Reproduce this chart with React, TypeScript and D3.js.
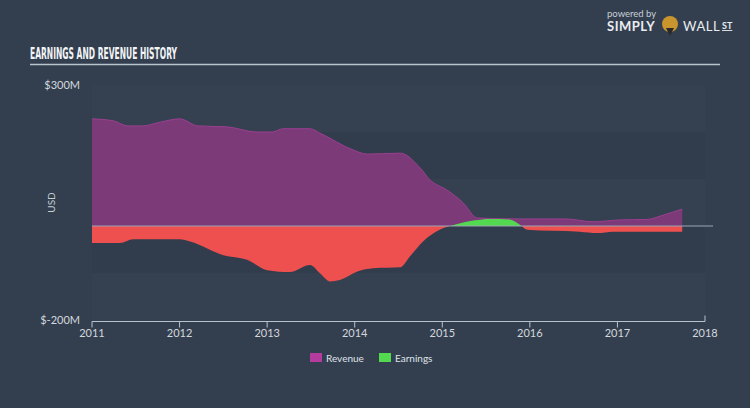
import * as d3 from "d3";
import React from "react";

// values in $M, dates as decimal years
const revenueDates = [2011.0, 2011.24, 2011.41, 2011.58, 2011.78, 2012.0, 2012.21, 2012.54, 2012.88, 2013.06, 2013.18, 2013.49, 2013.6, 2013.98, 2014.14, 2014.52, 2014.75, 2014.86, 2015.05, 2015.24, 2015.4, 2015.89, 2016.42, 2016.72, 2017.03, 2017.34, 2017.52, 2017.74];
const revenueValues = [228, 224, 213, 213, 221, 228, 213, 211, 200, 200, 207, 207, 198, 162, 153, 155, 123, 98, 77, 49, 17, 15, 15, 9, 13, 14, 23, 36];

const earningsDates = [2011.0, 2011.32, 2011.47, 2012.0, 2012.12, 2012.5, 2012.77, 2013.0, 2013.26, 2013.49, 2013.6, 2013.72, 2013.83, 2014.03, 2014.21, 2014.52, 2014.63, 2014.78, 2014.97, 2015.15, 2015.37, 2015.54, 2015.77, 2015.89, 2015.97, 2016.57, 2016.77, 2016.95, 2017.74];
const earningsValues = [-36, -36, -28, -28, -33, -62, -72, -94, -98, -83, -100, -118, -115, -97, -90, -88, -65, -33, -8, 3, 12, 15, 14, 2, -8, -12, -15, -12, -12];

const yearTicks = [2011, 2012, 2013, 2014, 2015, 2016, 2017, 2018];
const yTickLabels = ["$300M", "$-200M"];
const yTickValues = [300, -200];
const bandValues = [300, 200, 100, 0, -100];
const legendItems = ["Revenue", "Earnings"];

const W = 750, H = 408;
const plot = { left: 92, right: 705, top: 85, bottom: 320 };
const font = "Lato, 'Open Sans', sans-serif";

export default function App() {
  const x = d3.scaleLinear().domain([2011, 2018]).range([plot.left, plot.right]);
  const y = d3.scaleLinear().domain([-200, 300]).range([plot.bottom, plot.top]);

  const revenue = revenueDates.map((d, i) => ({ t: d, v: revenueValues[i] }));
  const earnings = earningsDates.map((d, i) => ({ t: d, v: earningsValues[i] }));

  const area = d3.area<{ t: number; v: number }>()
    .x(d => x(d.t))
    .y0(y(0))
    .y1(d => y(d.v))
    .curve(d3.curveMonotoneX);
  const line = d3.line<{ t: number; v: number }>()
    .x(d => x(d.t))
    .y(d => y(d.v))
    .curve(d3.curveMonotoneX);

  const legendColors = ["#b43c9e", "#52d94f"];
  const legendX = [310, 379];

  return (
    <svg width={W} height={H} style={{ position: "absolute", left: 0, top: 0 }}>
      <defs>
        <clipPath id="above">
          <rect x={0} y={0} width={W} height={y(0)} />
        </clipPath>
        <clipPath id="below">
          <rect x={0} y={y(0)} width={W} height={H} />
        </clipPath>
      </defs>
      <rect width={W} height={H} fill="#333f4f" />

      {/* logo */}
      <text x={607} y={17} fill="#c9cfd6" fontSize={9.5} fontFamily={font}>powered by</text>
      <text x={607} y={31} fill="#e9edf1" fontSize={13} fontWeight={700} fontFamily={font} letterSpacing={0.5}>SIMPLY</text>
      <circle cx={670} cy={24} r={8} fill="#c9952f" />
      <path d="M666,28 L670,36 L674,28 Z" fill="#2a2a2a" />
      <text x={683} y={31} fill="#e9edf1" fontSize={13} fontFamily={font} letterSpacing={0.5}>WALL</text>
      <text x={722} y={29} fill="#e9edf1" fontSize={9} fontWeight={700} fontFamily={font} textDecoration="underline">ST</text>

      {/* title */}
      <text x={30} y={59} fill="#f2f4f6" fontSize={15} fontWeight={700}
        fontFamily="'DejaVu Sans Condensed', 'Liberation Sans Narrow', sans-serif"
        textLength={147} lengthAdjust="spacingAndGlyphs">EARNINGS AND REVENUE HISTORY</text>
      <line x1={30} x2={720} y1={64.5} y2={64.5} stroke="#b9c3cd" strokeWidth={1.5} />

      {/* bands */}
      {bandValues.map((v, i) => (
        <rect key={v} x={plot.left} width={plot.right - plot.left} y={y(v)} height={y(v - 100) - y(v)}
          fill={i % 2 === 0 ? "#354151" : "#313d4c"} />
      ))}

      {/* revenue */}
      <path d={area(revenue) ?? ""} fill="#7c3a78" />
      <path d={line(revenue) ?? ""} fill="none" stroke="#9a3f90" strokeWidth={1} />

      {/* earnings */}
      <g clipPath="url(#above)">
        <path d={area(earnings) ?? ""} fill="#52d94f" />
      </g>
      <g clipPath="url(#below)">
        <path d={area(earnings) ?? ""} fill="#ee4f4f" />
      </g>

      {/* zero line */}
      <line x1={plot.left} x2={plot.right + 8} y1={y(0)} y2={y(0)} stroke="#9aa6b2" strokeWidth={1} />

      {/* y labels */}
      {yTickValues.map((v, i) => (
        <text key={v} x={80} y={y(v)} dy="0.35em" textAnchor="end" fill="#d3d8de" fontSize={11} fontFamily={font}>{yTickLabels[i]}</text>
      ))}
      <text transform={`translate(51,${y(50)}) rotate(-90)`} textAnchor="middle" dy="0.35em" fill="#c9cfd6" fontSize={10} fontFamily={font}>USD</text>

      {/* x axis */}
      <line x1={plot.left} x2={plot.right} y1={plot.bottom + 1.5} y2={plot.bottom + 1.5} stroke="#b9c3cd" strokeWidth={1} />
      {yearTicks.map(t => (
        <g key={t} transform={`translate(${x(t)},${plot.bottom + 1.5})`}>
          <line y1={0} y2={t === 2018 ? -6 : 6} stroke="#b9c3cd" strokeWidth={1} />
          <text y={12} dy="0.35em" textAnchor="middle" fill="#d3d8de" fontSize={11} fontFamily={font}>{t}</text>
        </g>
      ))}

      {/* legend */}
      {legendItems.map((name, i) => (
        <g key={name}>
          <rect x={legendX[i]} y={353} width={12} height={9} fill={legendColors[i]} />
          <text x={legendX[i] + 16} y={358} dy="0.35em" fill="#dfe3e8" fontSize={10} fontFamily={font}>{name}</text>
        </g>
      ))}
    </svg>
  );
}
